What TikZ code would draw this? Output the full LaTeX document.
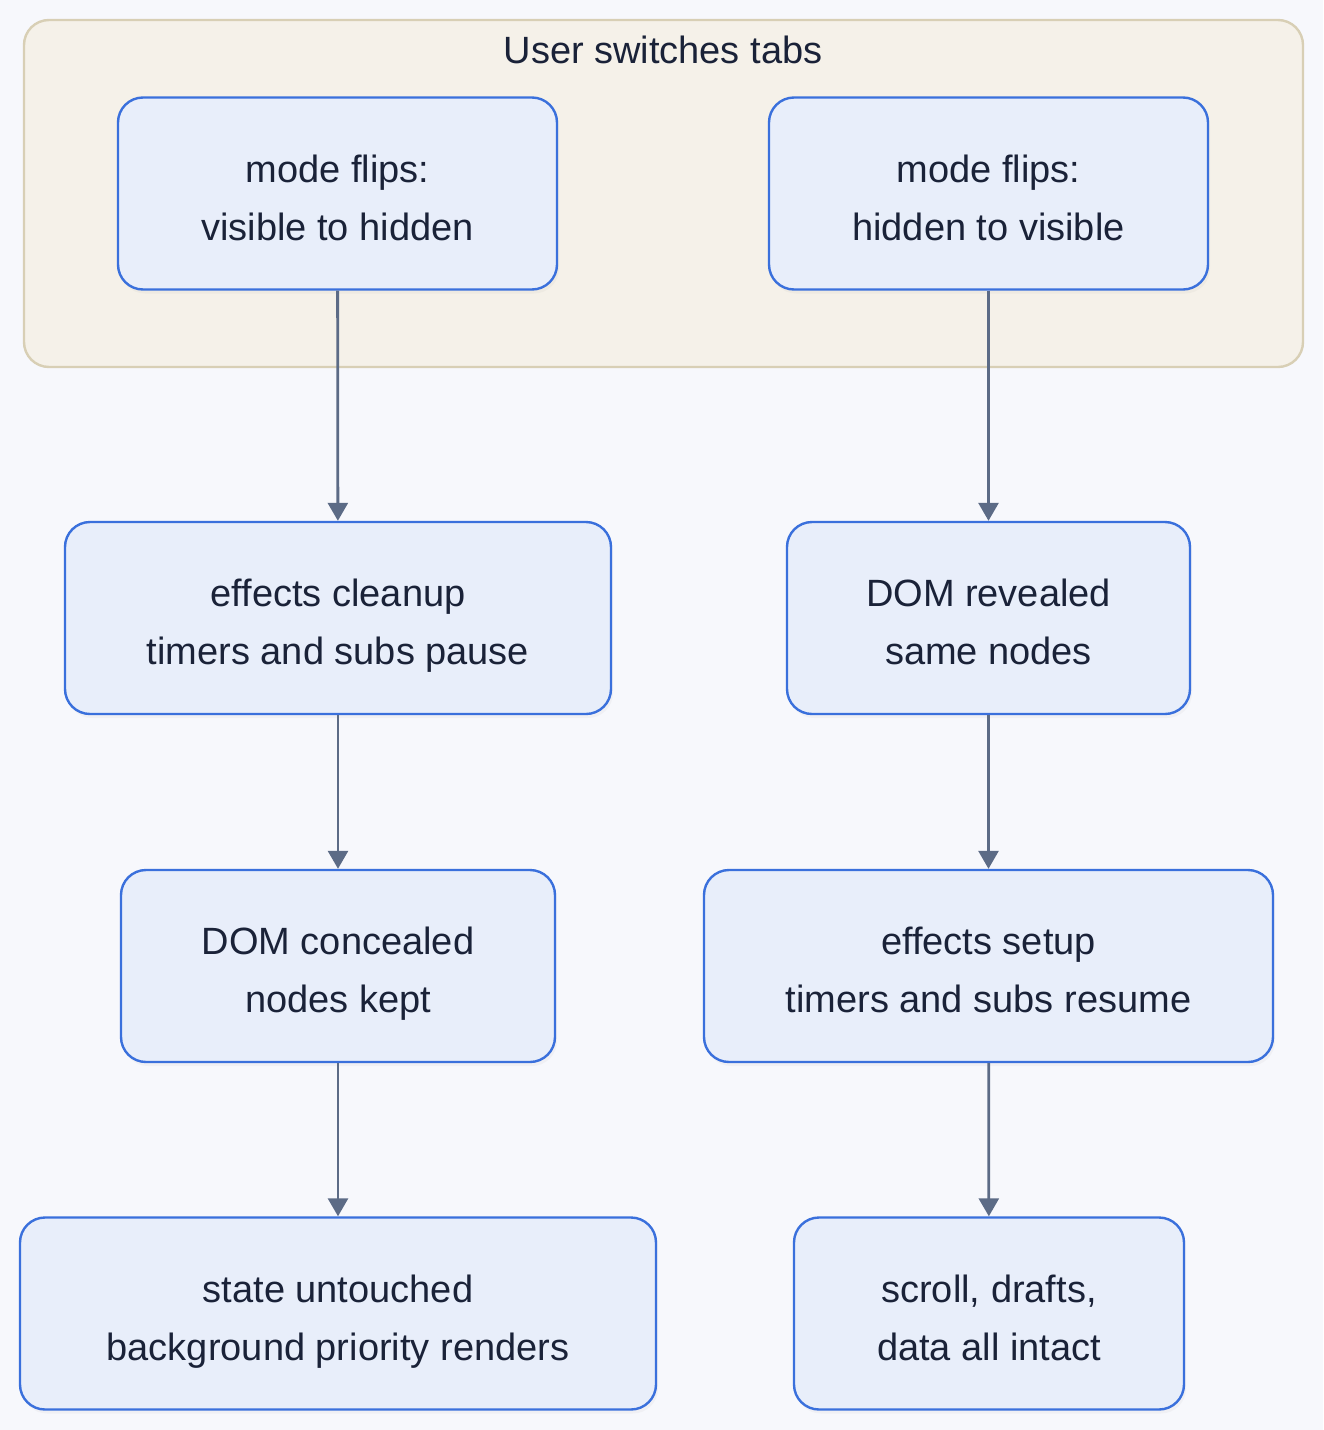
\documentclass[tikz,border=0pt]{standalone}
\usepackage{fontspec}
\setmainfont{Liberation Sans}
\usetikzlibrary{arrows.meta,positioning,shadows}

\definecolor{pagebg}{HTML}{F7F8FC}
\definecolor{groupfill}{HTML}{F5F1E9}
\definecolor{groupline}{HTML}{D8CFB5}
\definecolor{boxfill}{HTML}{E8EEFA}
\definecolor{boxline}{HTML}{3A70DC}
\definecolor{inktext}{HTML}{1A2238}
\definecolor{arrowink}{HTML}{5C6B86}

\newcommand{\linestrut}{\rule[-6.5pt]{0pt}{59.5pt}}

\begin{document}
\begin{tikzpicture}[x=0.5pt, y=-0.5pt,
			font=\fontsize{19}{29}\selectfont, text=inktext,
			block/.style={rectangle, draw=boxline, line width=1.2pt, fill=boxfill,
				align=center, rounded corners=12.5pt, minimum height=96pt,
				execute at end node=\linestrut,
				drop shadow={opacity=0.06, shadow xshift=1pt, shadow yshift=-2pt}},
			line/.style={draw=arrowink, line width=1.4pt,
				-{Triangle[width=10pt, length=9pt]}}]

			% Page and group frame
			\fill[pagebg] (0,0) rectangle (1323,1430);
			\draw[groupline, fill=groupfill, line width=1.2pt, rounded corners=12.5pt]
				(24,20) rectangle (1303,367);
			\node (title) at (663,50) {User switches tabs};

			% Left column
			\node[block, minimum width=219.5pt] (L1) at (337.5,193.5) {mode flips:\\visible to hidden};
			\node[block, minimum width=273pt] (L2) at (338,618) {effects cleanup\\timers and subs pause};
			\node[block, minimum width=217pt] (L3) at (338,966) {DOM concealed\\nodes kept};
			\node[block, minimum width=318pt] (L4) at (338,1313.5) {state untouched\\background priority renders};
			\path[line] (L1) -- (L2);
			\path[line] (L2) -- (L3);
			\path[line] (L3) -- (L4);

			% Right column
			\node[block, minimum width=219.5pt] (R1) at (988.5,193.5) {mode flips:\\hidden to visible};
			\node[block, minimum width=201.5pt] (R2) at (988.5,618) {DOM revealed\\same nodes};
			\node[block, minimum width=284.5pt] (R3) at (988.5,966) {effects setup\\timers and subs resume};
			\node[block, minimum width=195pt] (R4) at (989,1313.5) {scroll, drafts,\\data all intact};
			\path[line] (R1) -- (R2);
			\path[line] (R2) -- (R3);
			\path[line] (R3) -- (R4);
		\end{tikzpicture}
\end{document}
